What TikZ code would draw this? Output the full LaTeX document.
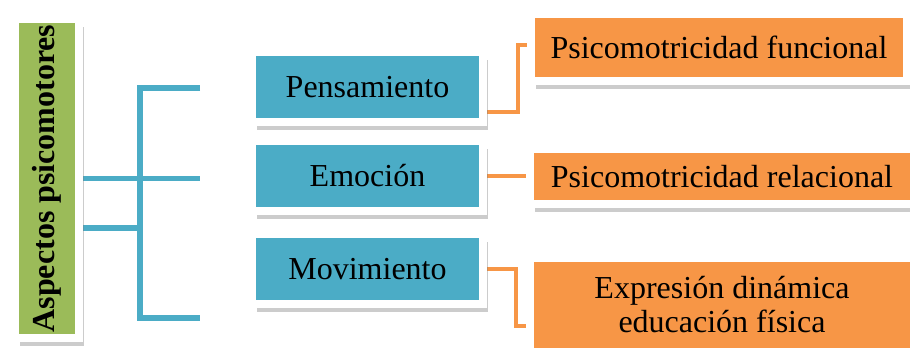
\documentclass[tikz,border=0pt]{standalone}
\usepackage{fontspec}
\setmainfont{Liberation Serif}
\usetikzlibrary{shadows,backgrounds}
\definecolor{aspgreen}{HTML}{9BBB59}
\definecolor{aspteal}{HTML}{4BACC6}
\definecolor{asporange}{HTML}{F79646}
\tikzset{
  box/.style={draw=white, line width=4pt, inner sep=0pt,
    font=\fontsize{16}{17}\selectfont,
    drop shadow={shadow xshift=2.6pt, shadow yshift=-3.8pt, opacity=0.4}},
  greenbox/.style={box, fill=aspgreen, rotate=90, minimum width=159.5pt,
    minimum height=32pt, font=\fontsize{16}{17}\selectfont\bfseries},
  tealbox/.style={box, fill=aspteal, minimum width=115.5pt, minimum height=35pt},
  orangebox/.style={box, fill=asporange, minimum width=192pt},
  tline/.style={aspteal, line width=2.6pt},
  oline/.style={asporange, line width=2pt}
}
\begin{document}
\begin{tikzpicture}[x=0.5pt,y=-0.5pt]
  \useasboundingbox (0,0) rectangle (910,351);
  % boxes
  \node[greenbox] (asp) at (47,178.5) {Aspectos psicomotores};
  \node[tealbox] (pen) at (367.5,87.5) {Pensamiento};
  \node[tealbox] (emo) at (367.5,176) {Emoción};
  \node[tealbox] (mov) at (367.5,269) {Movimiento};
  \node[orangebox, minimum width=188pt, minimum height=33.5pt] (fun) at (719,47.5) {Psicomotricidad funcional};
  \node[orangebox, minimum height=27.5pt] (rel) at (722,176.5) {Psicomotricidad relacional};
  \node[orangebox, minimum height=47pt, align=center] (exp) at (722,305) {Expresión dinámica\\educación física};
  % bracket points
  \coordinate (t1) at (200,88);
  \coordinate (t3) at (200,318);
  \coordinate (j1) at (140,88);
  \coordinate (j3) at (140,318);
  \coordinate (a2) at ([yshift=-24.75pt]asp.south);
  \begin{pgfonlayer}{background}
    \draw[tline] (t1) -- (j1) -- (j3) -- (t3);
    \draw[tline] (asp.south) -- (asp.south -| t1);
    \draw[tline] (a2) -- (a2 -| j1);
    \draw[oline] ([yshift=-12.25pt]pen.east) -| ([xshift=-4.5pt,yshift=1.25pt]fun.west) -- ([yshift=1.25pt]fun.west);
    \draw[oline] (emo.east) -- (emo.east -| rel.west);
    \draw[oline] (mov.east) -| ([xshift=-5pt,yshift=-10.5pt]exp.west) -- ([yshift=-10.5pt]exp.west);
  \end{pgfonlayer}
\end{tikzpicture}
\end{document}
